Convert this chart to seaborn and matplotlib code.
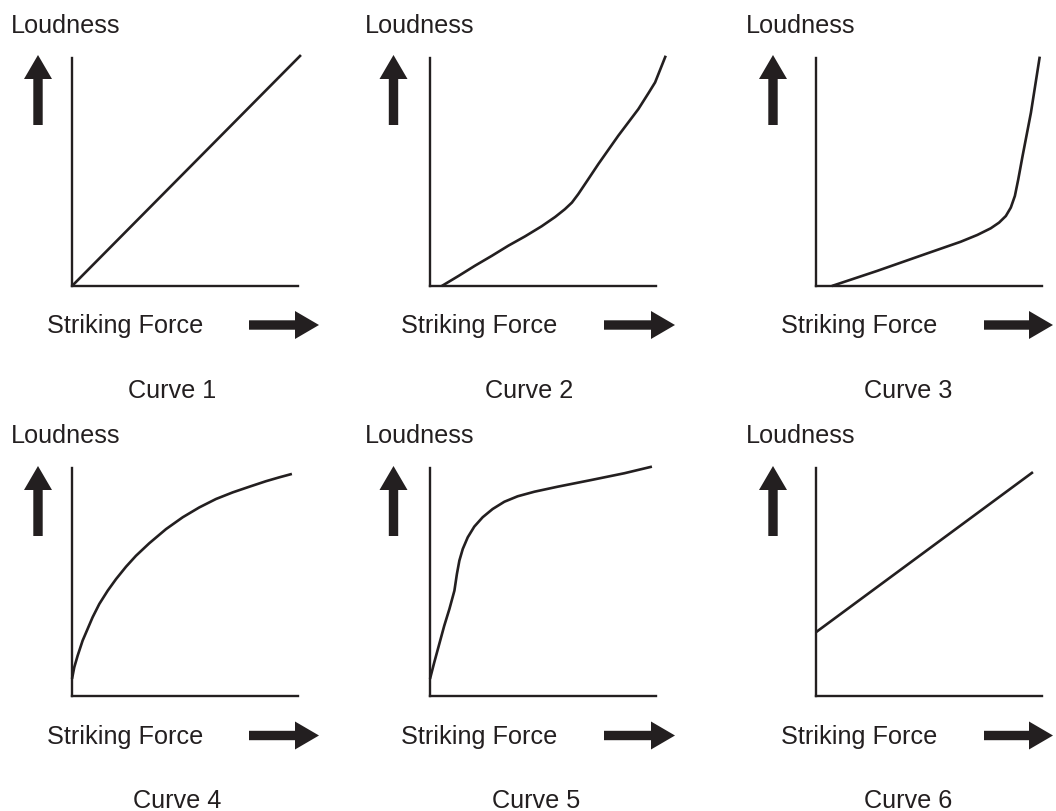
import matplotlib
matplotlib.use("Agg")
import matplotlib.pyplot as plt
from matplotlib.patches import Polygon
import seaborn as sns
import pandas as pd

# curves (striking force, loudness) in axis units 0..1
curve1_x = [0.0, 1.013]
curve1_y = [0.0, 1.013]

curve2_x = [0.052, 0.126, 0.199, 0.273, 0.347, 0.421, 0.494, 0.554, 0.597, 0.628,
            0.656, 0.700, 0.745, 0.833, 0.922, 0.968, 0.996, 1.043]
curve2_y = [0.0, 0.044, 0.089, 0.132, 0.177, 0.218, 0.262, 0.303, 0.337, 0.366,
            0.403, 0.468, 0.535, 0.659, 0.776, 0.848, 0.893, 1.01]

curve3_x = [0.07, 0.27, 0.492, 0.640, 0.714, 0.773, 0.810, 0.840, 0.862, 0.880,
            0.895, 0.914, 0.951, 0.99]
curve3_y = [0.0, 0.066, 0.143, 0.194, 0.224, 0.253, 0.278, 0.307, 0.344, 0.395,
            0.468, 0.570, 0.760, 1.006]

curve4_x = [0.0, 0.010, 0.025, 0.047, 0.069, 0.091, 0.121, 0.158, 0.195, 0.239,
            0.283, 0.342, 0.416, 0.490, 0.563, 0.637, 0.711, 0.785, 0.858, 0.917, 0.973]
curve4_y = [0.075, 0.126, 0.177, 0.243, 0.294, 0.345, 0.404, 0.462, 0.513, 0.567,
            0.615, 0.670, 0.732, 0.784, 0.827, 0.864, 0.893, 0.918, 0.942, 0.959, 0.974]

curve5_x = [0.0, 0.019, 0.041, 0.063, 0.086, 0.108, 0.119, 0.130, 0.145, 0.167,
            0.196, 0.233, 0.277, 0.329, 0.388, 0.462, 0.565, 0.712, 0.860, 0.982]
curve5_y = [0.075, 0.148, 0.228, 0.308, 0.382, 0.462, 0.535, 0.594, 0.645, 0.696,
            0.743, 0.784, 0.820, 0.852, 0.876, 0.896, 0.918, 0.947, 0.977, 1.006]

curve6_x = [0.0, 0.96]
curve6_y = [0.28, 0.982]

titles = ["Curve 1", "Curve 2", "Curve 3", "Curve 4", "Curve 5", "Curve 6"]
y_label = "Loudness"
x_label = "Striking Force"

curves = [(curve1_x, curve1_y), (curve2_x, curve2_y), (curve3_x, curve3_y),
          (curve4_x, curve4_y), (curve5_x, curve5_y), (curve6_x, curve6_y)]

sns.set_theme(style="white")
plt.rcParams["font.family"] = ["Liberation Sans", "DejaVu Sans"]

W, H = 1056, 812
INK = "#231f20"
FS = 18.2
fig = plt.figure(figsize=(W / 100, H / 100), dpi=100)
fig.patch.set_facecolor("white")


def fx(x):
    return x / W


def fy(y):
    return 1 - y / H


# layout in pixels
col_axis_x = [72, 430, 816]
col_loud_x = [11, 365, 746]
col_up_cx = [38, 393.5, 773]
col_sf_x = [47, 401, 781]
col_arrow = [(249, 319), (604, 675), (984, 1053)]
col_title_cx = [[172, 529, 908], [177, 536, 908]]
row_top = [59, 469]
row_bottom = [287, 697]
row_loud_base = [33, 443]
row_up = [(56, 80, 126), (467, 491, 537)]
row_sf_base = [333, 744]
row_arrow_cy = [326, 736.5]
row_title_base = [398, 808]

for i, (cx, cy) in enumerate(curves):
    r, c = divmod(i, 3)
    x0 = col_axis_x[c]
    ax = fig.add_axes([fx(x0), fy(row_bottom[r]), 226 / W, (row_bottom[r] - row_top[r]) / H])
    df = pd.DataFrame({"force": cx, "loudness": cy})
    sns.lineplot(data=df, x="force", y="loudness", ax=ax, color=INK,
                 linewidth=1.9, clip_on=False, sort=False)
    for ln in ax.lines:
        ln.set_solid_joinstyle("round")
        ln.set_solid_capstyle("butt")
    ax.set_xlim(0, 1)
    ax.set_ylim(0, 1)
    ax.set_xticks([])
    ax.set_yticks([])
    ax.set_xlabel("")
    ax.set_ylabel("")
    ax.set_facecolor("none")
    sns.despine(ax=ax)
    for s in ("left", "bottom"):
        ax.spines[s].set_color(INK)
        ax.spines[s].set_linewidth(1.7)
        ax.spines[s].set_capstyle("projecting")

    # labels
    fig.text(fx(col_loud_x[c]), fy(row_loud_base[r]), y_label, fontsize=FS,
             color=INK, ha="left", va="baseline")
    fig.text(fx(col_sf_x[c]), fy(row_sf_base[r]), x_label, fontsize=FS,
             color=INK, ha="left", va="baseline")
    fig.text(fx(col_title_cx[r][c]), fy(row_title_base[r]), titles[i], fontsize=FS,
             color=INK, ha="center", va="baseline")

    # up arrow
    ux = col_up_cx[c]
    tip, hb, sb = row_up[r]
    up = [(ux - 4.7, sb), (ux - 4.7, hb), (ux - 14, hb), (ux, tip),
          (ux + 14, hb), (ux + 4.7, hb), (ux + 4.7, sb)]
    fig.patches.append(Polygon([(fx(a), fy(b)) for a, b in up], closed=True,
                               transform=fig.transFigure, facecolor=INK,
                               edgecolor="none", figure=fig))

    # right arrow
    xs, xt = col_arrow[c]
    ay = row_arrow_cy[r]
    xh = xt - 24
    rt = [(xs, ay - 4.7), (xh, ay - 4.7), (xh, ay - 14), (xt, ay),
          (xh, ay + 14), (xh, ay + 4.7), (xs, ay + 4.7)]
    fig.patches.append(Polygon([(fx(a), fy(b)) for a, b in rt], closed=True,
                               transform=fig.transFigure, facecolor=INK,
                               edgecolor="none", figure=fig))

fig.savefig("out.png", dpi=100, facecolor="white")
